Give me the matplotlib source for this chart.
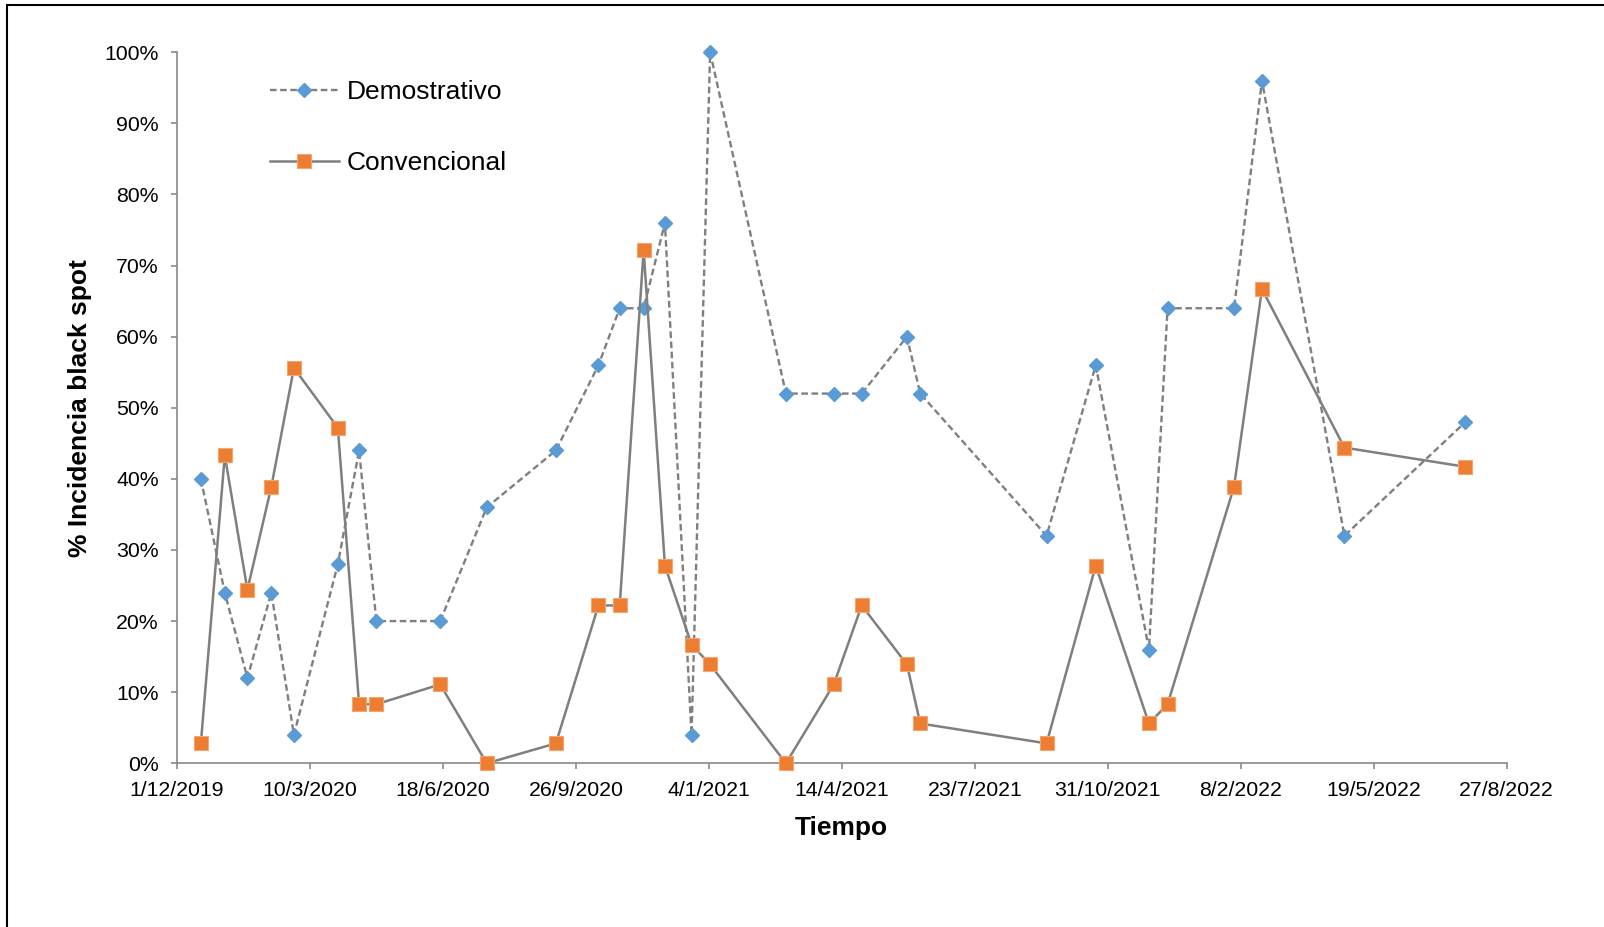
import matplotlib
matplotlib.use("Agg")
import matplotlib.pyplot as plt
import matplotlib.dates as mdates
from matplotlib.patches import Rectangle
from matplotlib.ticker import PercentFormatter, FuncFormatter
import numpy as np
import pandas as pd

# fechas de muestreo
fechas = ["2019-12-19", "2020-01-06", "2020-01-23", "2020-02-10", "2020-02-27",
          "2020-03-31", "2020-04-16", "2020-04-29", "2020-06-16", "2020-07-21",
          "2020-09-11", "2020-10-13", "2020-10-29", "2020-11-16", "2020-12-02",
          "2020-12-22", "2021-01-05", "2021-03-03", "2021-04-08", "2021-04-29",
          "2021-06-02", "2021-06-12", "2021-09-15", "2021-10-22", "2021-12-01",
          "2021-12-15", "2022-02-03", "2022-02-24", "2022-04-27", "2022-07-27"]

# % incidencia (fraccion)
demostrativo = [0.40, 0.24, 0.12, 0.24, 0.04, 0.28, 0.44, 0.20, 0.20, 0.36,
                0.44, 0.56, 0.64, 0.64, 0.76, 0.04, 1.00, 0.52, 0.52, 0.52,
                0.60, 0.52, 0.32, 0.56, 0.16, 0.64, 0.64, 0.96, 0.32, 0.48]
convencional = [0.028, 0.433, 0.244, 0.389, 0.556, 0.472, 0.083, 0.083, 0.111, 0.0,
                0.028, 0.222, 0.222, 0.722, 0.278, 0.167, 0.139, 0.0, 0.111, 0.222,
                0.139, 0.056, 0.028, 0.278, 0.056, 0.083, 0.389, 0.667, 0.444, 0.417]

ticks_x = ["2019-12-01", "2020-03-10", "2020-06-18", "2020-09-26", "2021-01-04",
           "2021-04-14", "2021-07-23", "2021-10-31", "2022-02-08", "2022-05-19",
           "2022-08-27"]

x = pd.to_datetime(fechas)
xt = pd.to_datetime(ticks_x)

plt.rcParams['font.family'] = ['Liberation Sans', 'DejaVu Sans']

fig = plt.figure(figsize=(16.04, 9.27), dpi=100)
ax = fig.add_axes([0.1103, 0.1766, 0.8290, 0.7670])

gris = "#7f7f7f"
ax.plot(x, demostrativo, linestyle=(0, (2.8, 1.5)), color=gris, lw=1.7,
        marker="D", markersize=7, markerfacecolor="#5b9bd5", markeredgecolor="#5b9bd5",
        label="Demostrativo", clip_on=False, zorder=3)
ax.plot(x, convencional, linestyle="solid", color=gris, lw=1.8,
        marker="s", markersize=10, markerfacecolor="#ed7d31", markeredgecolor="#f4a46c",
        markeredgewidth=0.8, label="Convencional", clip_on=False, zorder=4)

ax.set_xlim(xt[0], xt[-1])
ax.set_ylim(0, 1)
ax.set_xticks(xt)
ax.xaxis.set_major_formatter(FuncFormatter(
    lambda v, p: "{d.day}/{d.month}/{d.year}".format(d=mdates.num2date(v))))
ax.set_yticks(np.arange(0, 1.01, 0.1))
ax.yaxis.set_major_formatter(PercentFormatter(1.0, decimals=0))

for s in ['top', 'right']:
    ax.spines[s].set_visible(False)
for s in ['left', 'bottom']:
    ax.spines[s].set_color("#898989")
    ax.spines[s].set_linewidth(1.2)
ax.tick_params(axis='both', colors="#898989", length=4, width=1.2, pad=9,
               labelsize=15.3, labelcolor="black")

ax.set_xlabel("Tiempo", fontsize=19, fontweight="bold", labelpad=11)
ax.set_ylabel("% Incidencia black spot", fontsize=19, fontweight="bold", labelpad=9)

ax.legend(loc="upper left", bbox_to_anchor=(0.07, 0.961), frameon=False,
          fontsize=19, borderpad=0, handlelength=2.6, handletextpad=0.3,
          labelspacing=1.78, borderaxespad=0)

# marco de la figura
fig.patches.append(Rectangle((0.0044, -0.5), 2, 1.4946, transform=fig.transFigure,
                             fill=False, edgecolor="black", lw=1.5))

plt.savefig("out.png", dpi=100)
